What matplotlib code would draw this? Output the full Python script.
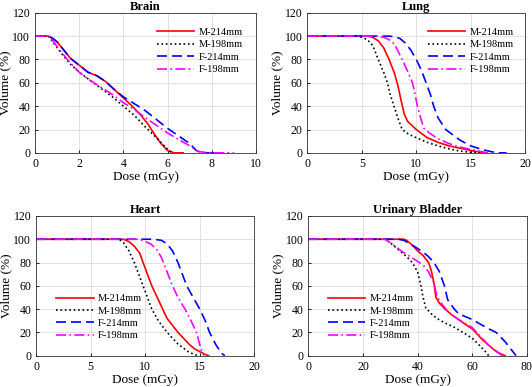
import numpy as np
import matplotlib
matplotlib.use('Agg')
import matplotlib.pyplot as plt

plt.rcParams['font.family'] = ['Liberation Serif', 'DejaVu Serif']

labels = ['M-214mm', 'M-198mm', 'F-214mm', 'F-198mm']
colors = ['#ff0000', 'black', '#0000ff', '#ff00ff']
styles = ['-', ':', (0, (6, 3)), (0, (6, 2, 1, 2))]

# Brain (dose mGy, volume %)
brain_m214_x = [0, 0.6, 0.8, 1.0, 1.3, 1.6, 2.0, 2.4, 2.8, 3.2, 3.6, 4.0, 4.4, 4.8, 5.1, 5.4, 5.7, 6.0, 6.3, 6.7]
brain_m214_y = [100, 100, 98, 95, 88, 81, 75, 69, 66, 61, 54, 47, 40, 32, 25, 16, 8, 2, 0, 0]
brain_m198_x = [0, 0.6, 0.8, 1.2, 1.6, 2.0, 2.5, 3.0, 3.5, 4.0, 4.5, 5.0, 5.5, 6.0, 6.2]
brain_m198_y = [100, 100, 95, 85, 76, 69, 62, 55, 48, 40, 32, 22, 13, 3, 0]
brain_f214_x = [0, 0.6, 0.8, 1.0, 1.3, 1.6, 2.0, 2.4, 2.8, 3.2, 3.6, 4.0, 5.0, 6.0, 7.0, 7.3, 7.6, 8.5]
brain_f214_y = [100, 100, 98, 95, 88, 81, 75, 69, 66, 61, 54, 48, 36, 21, 8, 2, 0, 0]
brain_f198_x = [0, 0.6, 0.8, 1.2, 1.6, 2.0, 2.5, 3.0, 3.5, 4.0, 4.5, 5.0, 6.0, 7.0, 7.4, 8.0, 9.0]
brain_f198_y = [100, 100, 96, 86, 77, 69, 62, 56, 50, 43, 37, 30, 17, 6, 1, 0, 0]

# Lung
lung_m214_x = [0, 5.5, 6, 6.5, 7, 7.5, 8, 8.3, 8.6, 8.9, 9.2, 10, 11, 12, 13, 14, 15, 16, 16.5]
lung_m214_y = [100, 100, 99, 96, 90, 80, 68, 58, 45, 33, 27, 20, 13, 9, 6, 4, 2, 0.5, 0]
lung_m198_x = [0, 4.5, 5, 5.5, 6, 6.5, 7, 7.35, 7.6, 7.95, 8.3, 8.7, 9.3, 10, 11, 12, 13, 14, 15, 16]
lung_m198_y = [100, 100, 99, 97, 92, 80, 69, 60, 50, 40, 30, 20, 16, 13, 9, 6, 3.5, 1.5, 0.5, 0]
lung_f214_x = [0, 7.5, 8, 8.5, 9, 9.5, 10, 10.5, 10.9, 11.3, 11.6, 12.0, 12.7, 14, 15, 16, 17, 17.5, 18.3]
lung_f214_y = [100, 100, 99.5, 98, 94, 88, 80, 70, 60, 50, 40, 30, 20, 11, 6, 3, 0.8, 0, 0]
lung_f198_x = [0, 6.5, 7, 7.5, 8, 8.7, 9.2, 9.65, 9.9, 10.1, 10.4, 10.7, 11.2, 12, 13, 14, 15, 16, 16.5]
lung_f198_y = [100, 100, 99, 97, 93, 80, 70, 60, 50, 40, 30, 21, 17, 12, 8, 5, 3, 1, 0]

# Heart
heart_m214_x = [0, 8, 8.5, 9, 9.5, 9.8, 10.2, 10.6, 11, 11.5, 12, 12.5, 13, 13.5, 14, 14.5, 15, 15.5, 15.8]
heart_m214_y = [100, 100, 98, 94, 88, 80, 70, 60, 52, 42, 32, 26, 20, 15, 10, 6, 3.5, 1, 0]
heart_m198_x = [0, 7.6, 8, 8.5, 9, 9.4, 9.8, 10.2, 10.6, 11.2, 12, 13, 14, 14.8]
heart_m198_y = [100, 100, 97, 90, 80, 70, 60, 50, 40, 30, 20, 10, 3, 0]
heart_f214_x = [0, 10.8, 11.5, 12, 12.5, 13, 13.4, 13.8, 14.4, 15, 15.5, 15.9, 16.5, 17, 17.3]
heart_f214_y = [100, 100, 99, 96, 90, 80, 70, 60, 50, 40, 30, 20, 9, 2, 0]
heart_f198_x = [0, 9.5, 10, 10.5, 11, 11.5, 12, 12.5, 13, 13.65, 14.2, 14.7, 15.1, 15.4]
heart_f198_y = [100, 100, 98, 96, 92, 84, 72, 60, 50, 40, 30, 20, 6, 0]

# Urinary bladder
blad_m214_x = [0, 35, 36, 38, 40, 42, 44, 45, 46, 46.7, 48, 50, 52.5, 55, 58, 60, 62, 64, 66, 68, 70, 72]
blad_m214_y = [100, 100, 99, 95, 90, 86, 80, 73, 62, 50, 45, 40, 35, 31, 26, 23, 18, 13, 9, 5, 2, 0]
blad_m198_x = [0, 28, 30, 32, 34, 36, 38, 40, 41.2, 42, 43, 45, 47, 50, 53, 56.5, 60, 63, 65, 66]
blad_m198_y = [100, 100, 97, 93, 89, 85, 80, 72, 60, 50, 41, 36, 32, 28, 25, 20, 15, 8, 3, 0]
blad_f214_x = [0, 33, 35, 38, 40, 42, 44, 46, 48, 49.8, 51, 53.4, 55, 58, 60, 63, 66, 68.7, 72, 74, 76]
blad_f214_y = [100, 100, 99, 95, 92, 89, 85, 80, 72, 60, 48, 40, 36, 33, 31, 27, 23, 20, 12, 6, 0]
blad_f198_x = [0, 28, 30, 34, 38, 42, 44, 46, 47, 48, 50, 52, 55, 58, 60, 62, 64, 66, 68, 70, 71]
blad_f198_y = [100, 100, 97, 90, 84, 78, 72, 62, 52, 47, 41, 36, 31, 27, 24, 19, 14, 9, 5, 1.5, 0]

panels = [
    ('Brain', [0.066, 0.605, 0.415, 0.362], (0, 10), [0, 2, 4, 6, 8, 10],
     [(brain_m214_x, brain_m214_y), (brain_m198_x, brain_m198_y),
      (brain_f214_x, brain_f214_y), (brain_f198_x, brain_f198_y)], (0.552, 0.893)),
    ('Lung', [0.578, 0.605, 0.409, 0.362], (0, 20), [0, 5, 10, 15, 20],
     [(lung_m214_x, lung_m214_y), (lung_m198_x, lung_m198_y),
      (lung_f214_x, lung_f214_y), (lung_f198_x, lung_f198_y)], (0.553, 0.893)),
    ('Heart', [0.068, 0.081, 0.41, 0.361], (0, 20), [0, 5, 10, 15, 20],
     [(heart_m214_x, heart_m214_y), (heart_m198_x, heart_m198_y),
      (heart_f214_x, heart_f214_y), (heart_f198_x, heart_f198_y)], (0.092, 0.442)),
    ('Urinary Bladder', [0.5795, 0.081, 0.411, 0.361], (0, 80), [0, 20, 40, 60, 80],
     [(blad_m214_x, blad_m214_y), (blad_m198_x, blad_m198_y),
      (blad_f214_x, blad_f214_y), (blad_f198_x, blad_f198_y)], (0.09, 0.442)),
]

fig = plt.figure(figsize=(5.32, 3.87), dpi=100)
for title, pos, xlim, xticks, curves, leg_pos in panels:
    ax = fig.add_axes(pos)
    for (x, y), lab, c, ls in zip(curves, labels, colors, styles):
        ax.plot(x, y, color=c, linestyle=ls, linewidth=1.2, label=lab)
    ax.set_xlim(xlim)
    ax.set_ylim(0, 120)
    ax.set_xticks(xticks)
    ax.set_yticks([0, 20, 40, 60, 80, 100, 120])
    ax.grid(True, color='#dddddd', linewidth=0.6)
    ax.tick_params(direction='in', labelsize=8.5, length=2, width=0.6)
    for s in ax.spines.values():
        s.set_linewidth(0.6)
        s.set_color('#333333')
    ax.set_title(title, fontsize=9, fontweight='bold', pad=2)
    ax.set_xlabel('Dose (mGy)', fontsize=9.5, labelpad=1)
    ax.set_ylabel('Volume (%)', fontsize=9.5, labelpad=1)
    ax.legend(loc='upper left', bbox_to_anchor=leg_pos, fontsize=7.5,
              frameon=False, handlelength=3.6, labelspacing=0.3,
              handletextpad=0.4, borderpad=0, borderaxespad=0)

fig.savefig('out.png', dpi=100)
